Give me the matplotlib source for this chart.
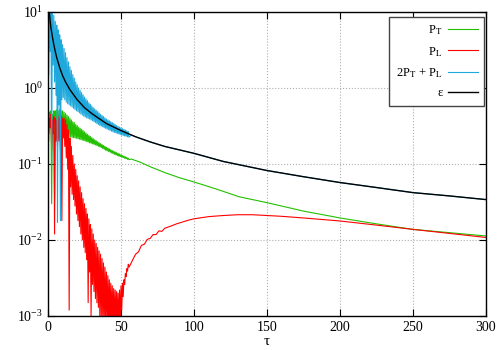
import numpy as np
import matplotlib
matplotlib.use("Agg")
import matplotlib.pyplot as plt
from matplotlib.ticker import LogLocator, NullLocator, LogFormatterMathtext

plt.rcParams['font.family'] = ['Liberation Serif', 'DejaVu Serif']
plt.rcParams['mathtext.fontset'] = 'stix'

# oscillating early part: peaks at tau = 0,1,...,55 and dips half way between
tau_peak = list(range(0, 56))
tau_dip = [t + 0.5 for t in range(0, 56)]

pl_peak = [0.45, 0.4, 0.45, 0.38, 0.42, 0.4, 0.38, 0.42, 0.4, 0.42,
           0.4, 0.4, 0.38, 0.33, 0.28, 0.22, 0.17, 0.13, 0.1, 0.085,
           0.07, 0.06, 0.05, 0.042, 0.035, 0.03, 0.026, 0.022, 0.019, 0.016,
           0.014, 0.012, 0.01, 0.009, 0.008, 0.0072, 0.0065, 0.0057, 0.005, 0.0044,
           0.0038, 0.0034, 0.003, 0.0027, 0.0025, 0.0023, 0.0022, 0.0021, 0.002, 0.0022,
           0.0025, 0.0027, 0.003, 0.0036, 0.0042, 0.0048]
pl_dip = [0.25, 0.3, 0.15, 0.25, 0.012, 0.2, 0.17, 0.2, 0.15, 0.018,
          0.22, 0.17, 0.12, 0.085, 0.0012, 0.05, 0.04, 0.034, 0.028, 0.022,
          0.018, 0.015, 0.012, 0.01, 0.008, 0.0068, 0.0055, 0.0015, 0.0038, 0.001,
          0.0026, 0.0021, 0.0017, 0.0015, 0.0013, 0.0009, 0.001, 0.0009, 0.0008, 0.0009,
          0.0008, 0.0007, 0.0008, 0.0007, 0.0008, 0.0007, 0.0008, 0.0007, 0.0007, 0.0008,
          0.0012, 0.0018, 0.0026, 0.0033, 0.0039, 0.0044]

pt_peak = [0.5, 0.48, 0.5, 0.45, 0.5, 0.5, 0.52, 0.5, 0.52, 0.5,
           0.5, 0.48, 0.46, 0.44, 0.42, 0.4, 0.38, 0.36, 0.35, 0.33,
           0.32, 0.305, 0.295, 0.285, 0.275, 0.265, 0.255, 0.245, 0.237, 0.23,
           0.222, 0.215, 0.208, 0.202, 0.196, 0.19, 0.185, 0.18, 0.175, 0.17,
           0.166, 0.162, 0.158, 0.154, 0.15, 0.147, 0.144, 0.141, 0.138, 0.135,
           0.132, 0.129, 0.127, 0.124, 0.122, 0.119]
pt_dip = [0.2, 0.3, 0.03, 0.3, 0.035, 0.28, 0.25, 0.27, 0.25, 0.25,
          0.24, 0.235, 0.232, 0.23, 0.228, 0.226, 0.224, 0.222, 0.22, 0.218,
          0.215, 0.212, 0.209, 0.206, 0.203, 0.2, 0.197, 0.194, 0.19, 0.187,
          0.184, 0.181, 0.178, 0.175, 0.171, 0.168, 0.164, 0.16, 0.156, 0.152,
          0.149, 0.146, 0.143, 0.14, 0.137, 0.134, 0.132, 0.129, 0.127, 0.125,
          0.123, 0.121, 0.119, 0.117, 0.115, 0.114]

sum_peak = [14, 14, 12, 11, 9, 7.5, 6.7, 5.8, 5, 4.3,
            3.7, 3.3, 2.9, 2.5, 2.2, 1.9, 1.7, 1.5, 1.35, 1.2,
            1.1, 1.0, 0.93, 0.87, 0.81, 0.76, 0.72, 0.68, 0.64, 0.61,
            0.58, 0.55, 0.53, 0.51, 0.49, 0.47, 0.45, 0.435, 0.42, 0.405,
            0.39, 0.38, 0.37, 0.36, 0.35, 0.34, 0.33, 0.32, 0.312, 0.305,
            0.298, 0.291, 0.285, 0.279, 0.273, 0.267]
sum_dip = [1.5, 3, 0.1, 2, 1.2, 0.8, 0.017, 0.6, 0.018, 0.7,
           0.75, 0.7, 0.65, 0.62, 0.6, 0.58, 0.56, 0.54, 0.52, 0.5,
           0.49, 0.47, 0.455, 0.44, 0.425, 0.415, 0.405, 0.395, 0.39, 0.38,
           0.37, 0.36, 0.35, 0.34, 0.33, 0.32, 0.315, 0.308, 0.3, 0.294,
           0.288, 0.282, 0.276, 0.27, 0.265, 0.26, 0.256, 0.252, 0.248, 0.244,
           0.24, 0.237, 0.234, 0.231, 0.228, 0.225]

# smoother late part
tau_pl_late = [57, 58, 60, 62, 64, 66, 68, 70, 72, 74, 76, 78, 80, 84, 88, 92, 96, 100,
               110, 120, 130, 140, 150, 160, 175, 200, 225, 250, 275, 300]
pl_late = [0.005, 0.0055, 0.0065, 0.007, 0.0085, 0.0088, 0.0102, 0.0105, 0.0118, 0.0118,
           0.0132, 0.013, 0.0143, 0.0152, 0.0163, 0.0172, 0.0182, 0.019,
           0.0203, 0.021, 0.0215, 0.0215, 0.021, 0.0205, 0.0195, 0.0178, 0.0157, 0.0138,
           0.0122, 0.0108]

tau_pt_late = [57, 60, 63, 70, 80, 90, 100, 115, 131, 150, 175, 200, 225, 250, 275, 300]
pt_late = [0.116, 0.111, 0.106, 0.092, 0.077, 0.066, 0.058, 0.047, 0.037, 0.031, 0.024,
           0.0195, 0.0163, 0.0138, 0.0125, 0.0113]

tau_sum_late = [57, 60, 70, 80, 100, 120, 150, 175, 200, 225, 250, 275, 300]
sum_late = [0.24, 0.228, 0.195, 0.17, 0.138, 0.108, 0.082, 0.068, 0.057, 0.049, 0.042,
            0.038, 0.034]

tau_eps = [0.8, 1, 1.5, 2, 3, 4, 5, 6, 8, 10, 12, 15, 20, 25, 30, 40, 50, 60, 70, 80,
           100, 120, 150, 175, 200, 225, 250, 275, 300]
eps = [10.5, 9.5, 7.5, 6.2, 4.7, 3.7, 3.0, 2.5, 1.85, 1.45, 1.2, 0.95, 0.7, 0.55, 0.46,
       0.34, 0.275, 0.228, 0.195, 0.17, 0.138, 0.108, 0.082, 0.068, 0.057, 0.049, 0.042,
       0.038, 0.034]


def series(peak, dip, tau_late, late):
    t = np.column_stack([tau_peak, tau_dip]).ravel()
    v = np.column_stack([peak, dip]).ravel()
    return np.concatenate([t, tau_late]), np.concatenate([v, late])


fig = plt.figure(figsize=(5, 3.5), dpi=100)
ax = fig.add_axes([0.096, 0.097, 0.876, 0.869])

x, y = series(pt_peak, pt_dip, tau_pt_late, pt_late)
ax.plot(x, y, color='#22c000', lw=0.8, label=r'P$_\mathrm{T}$')
x, y = series(pl_peak, pl_dip, tau_pl_late, pl_late)
ax.plot(x, y, color='#ff0000', lw=0.8, label=r'P$_\mathrm{L}$')
x, y = series(sum_peak, sum_dip, tau_sum_late, sum_late)
ax.plot(x, y, color='#1ea8dc', lw=0.8, label=r'2P$_\mathrm{T}$ + P$_\mathrm{L}$')
ax.plot(tau_eps, eps, color='black', lw=1.0, label='ε')

ax.set_yscale('log')
ax.set_xlim(0, 300)
ax.set_ylim(1e-3, 1e1)
ax.yaxis.set_major_locator(LogLocator(base=10))
ax.yaxis.set_minor_locator(NullLocator())
ax.yaxis.set_major_formatter(LogFormatterMathtext())
ax.set_xticks([0, 50, 100, 150, 200, 250, 300])
ax.grid(True, color='#b0b0b0', linestyle=':', linewidth=0.8)
ax.tick_params(direction='in', top=True, right=True, length=5, labelsize=10)
for s in ax.spines.values():
    s.set_linewidth(1.0)
ax.set_xlabel('τ', fontsize=11, labelpad=1)

leg = ax.legend(loc='upper right', bbox_to_anchor=(0.968, 0.951), bbox_transform=fig.transFigure,
                borderaxespad=0, markerfirst=False, fontsize=9, handlelength=2.4,
                handletextpad=0.4, frameon=True, fancybox=False, edgecolor='#444444',
                framealpha=1, borderpad=0.5, labelspacing=0.6)
leg.get_frame().set_linewidth(1.0)

fig.savefig('out.png', dpi=100)
